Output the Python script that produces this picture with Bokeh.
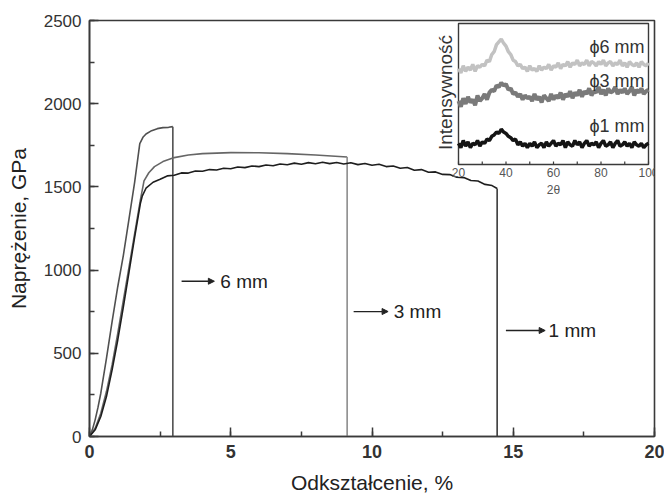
import numpy as np
from bokeh.plotting import figure
from bokeh.models import Range1d, SingleIntervalTicker, Arrow, NormalHead
from bokeh.embed import file_html
from bokeh.resources import INLINE
from bokeh.core.properties import value

# ---------------- main chart data (strain %, stress) ----------------
strain_6 = [0, 0.1, 0.2, 0.3, 0.4, 0.6, 0.8, 1.0, 1.2, 1.4, 1.6, 1.78, 1.9, 2.0, 2.2, 2.4, 2.6, 2.8, 2.95]
stress_6 = [0, 40, 100, 175, 260, 470, 690, 900, 1090, 1310, 1530, 1760, 1800, 1818, 1838, 1850, 1856, 1858, 1862]

strain_3 = [0, 0.2, 0.4, 0.6, 0.8, 1.0, 1.2, 1.4, 1.6, 1.8, 1.93, 2.1, 2.3, 2.6, 3.0, 3.5, 4.0, 5.0, 6.0, 7.0, 8.0, 9.12]
stress_3 = [0, 50, 140, 270, 430, 620, 820, 1020, 1220, 1420, 1536, 1585, 1622, 1652, 1676, 1692, 1700, 1706, 1705, 1700, 1692, 1680]

strain_1 = [0, 0.2, 0.4, 0.6, 0.8, 1.0, 1.2, 1.4, 1.6, 1.8, 1.87, 2.0,
            2.25, 2.5, 2.75, 3.0, 3.25, 3.5, 3.75, 4.0, 4.25, 4.5,
            4.75, 5.0, 5.25, 5.5, 5.75, 6.0, 6.25, 6.5, 6.75, 7.0,
            7.25, 7.5, 7.75, 8.0, 8.25, 8.5, 8.75, 9.0, 9.25, 9.5,
            9.75, 10.0, 10.25, 10.5, 10.75, 11.0, 11.25, 11.5, 11.75, 12.0,
            12.25, 12.5, 12.75, 13.0, 13.25, 13.5, 13.75, 14.0, 14.25, 14.43]
stress_1 = [0, 40, 120, 240, 400, 580, 780, 990, 1200, 1400, 1446, 1492,
            1528, 1546, 1566, 1570, 1584, 1583, 1595, 1594, 1604, 1602,
            1612, 1609, 1620, 1616, 1626, 1622, 1632, 1627, 1638, 1633,
            1643, 1636, 1646, 1639, 1648, 1640, 1647, 1638, 1645, 1634,
            1641, 1630, 1636, 1622, 1626, 1612, 1617, 1600, 1604, 1588,
            1590, 1575, 1574, 1558, 1556, 1538, 1535, 1515, 1508, 1490]

labels_main = ["6 mm", "3 mm", "1 mm"]
arrow_x0 = [3.26, 9.35, 14.74]
arrow_x1 = [4.42, 10.57, 16.13]
arrow_y = [933, 751, 637]
label_x = [4.63, 10.77, 16.25]

# ---------------- inset (XRD) data, 2theta = 20..100 step 1 ----------------
two_theta = list(range(20, 101))
xrd_6 = [68, 65, 70, 66, 69, 67, 71, 66, 70, 69,
         71, 70, 74, 73, 78, 80, 85, 87, 89, 86,
         84, 80, 78, 74, 73, 70, 71, 68, 69, 66,
         70, 67, 68, 66, 70, 67, 69, 68, 71, 67,
         70, 69, 72, 68, 71, 70, 73, 69, 72, 71,
         74, 70, 72, 71, 74, 70, 73, 72, 70, 73,
         71, 74, 70, 72, 73, 70, 72, 71, 74, 70,
         72, 69, 73, 71, 70, 72, 69, 73, 71, 70,
         72]
xrd_3 = [45, 41, 47, 43, 48, 44, 46, 42, 49, 45,
         47, 50, 46, 51, 53, 52, 56, 55, 58, 56,
         57, 53, 54, 50, 51, 48, 50, 46, 49, 47,
         48, 45, 50, 46, 48, 44, 49, 47, 45, 50,
         46, 49, 47, 51, 46, 50, 48, 52, 47, 51,
         49, 53, 48, 52, 50, 54, 49, 52, 51, 55,
         50, 53, 49, 54, 51, 52, 55, 50, 53, 51,
         54, 50, 52, 55, 49, 53, 51, 54, 50, 52,
         53]
xrd_1 = [15, 12, 17, 13, 16, 12, 15, 14, 17, 13,
         16, 15, 18, 17, 20, 21, 23, 22, 25, 23,
         22, 20, 19, 17, 18, 14, 16, 13, 15, 12,
         15, 13, 16, 12, 14, 15, 12, 16, 13, 15,
         17, 13, 15, 14, 17, 12, 16, 14, 13, 17,
         14, 16, 12, 15, 17, 13, 15, 14, 16, 12,
         15, 17, 13, 14, 16, 12, 15, 17, 13, 14,
         16, 13, 15, 12, 16, 14, 13, 15, 12, 14,
         15]
xrd_labels = ["\u03d56 mm", "\u03d53 mm", "\u03d51 mm"]
xrd_label_y = [83, 59, 27]
inset_ticks = [20, 40, 60, 80, 100]
inset_minor = [30, 50, 70, 90]

# ---------------- layout constants (pixels in the window) ----------------
W, H = 664, 497
FR_L, FR_R, FR_T, FR_B = 89, 654, 20, 436
IN_L, IN_R, IN_T, IN_B = 458, 648, 23, 164

FONT = "Liberation Sans"
DARK = "#333333"

p = figure(width=W, height=H, output_backend="svg", toolbar_location=None,
           x_range=Range1d(0, 20), y_range=Range1d(0, 2500),
           min_border_left=FR_L, min_border_right=W - FR_R,
           min_border_top=FR_T, min_border_bottom=H - FR_B)
p.grid.visible = False
p.outline_line_color = "#3a3a3a"
p.outline_line_width = 1.6
p.background_fill_color = "white"
p.border_fill_color = "white"

p.xaxis.ticker = SingleIntervalTicker(interval=5, num_minor_ticks=2)
p.yaxis.ticker = SingleIntervalTicker(interval=500, num_minor_ticks=2)
for ax in (p.xaxis, p.yaxis):
    ax.axis_line_color = "#3a3a3a"
    ax.axis_line_width = 1.6
    ax.major_tick_line_color = "#3a3a3a"
    ax.minor_tick_line_color = "#3a3a3a"
    ax.major_tick_line_width = 1.5
    ax.minor_tick_line_width = 1.5
    ax.major_tick_in = 9
    ax.major_tick_out = 0
    ax.minor_tick_in = 5
    ax.minor_tick_out = 0
    ax.major_label_text_font = FONT
    ax.major_label_text_color = DARK
    ax.axis_label_text_font = FONT
    ax.axis_label_text_font_style = "normal"
    ax.axis_label_text_color = "#222222"
    ax.axis_label_text_font_size = "21px"

p.xaxis.axis_label = "Odkształcenie, %"
p.yaxis.axis_label = "Naprężenie, GPa"
p.xaxis.major_label_text_font_size = "18px"
p.xaxis.major_label_text_font_style = "bold"
p.yaxis.major_label_text_font_size = "17px"
p.xaxis.major_label_standoff = 8
p.yaxis.major_label_standoff = 8
p.xaxis.axis_label_standoff = 10
p.yaxis.axis_label_standoff = 11

# main curves
p.line(strain_6, stress_6, line_color="#505050", line_width=1.6)
p.segment(x0=[strain_6[-1]], y0=[stress_6[-1]], x1=[strain_6[-1]], y1=[0],
          line_color="#505050", line_width=1.6)
p.line(strain_3, stress_3, line_color="#666666", line_width=1.6)
p.segment(x0=[strain_3[-1]], y0=[stress_3[-1]], x1=[strain_3[-1]], y1=[0],
          line_color="#8c8c8c", line_width=1.6)
p.line(strain_1, stress_1, line_color="#1e1e1e", line_width=1.6)
p.segment(x0=[strain_1[-1]], y0=[stress_1[-1]], x1=[strain_1[-1]], y1=[0],
          line_color="#3a3a3a", line_width=1.6)

# arrows + labels
for x0, x1, y in zip(arrow_x0, arrow_x1, arrow_y):
    p.add_layout(Arrow(x_start=x0, y_start=y, x_end=x1, y_end=y,
                       line_color="#222222", line_width=1.3,
                       end=NormalHead(size=6, fill_color="#222222", line_color="#222222", line_width=1)))
p.text(x=label_x, y=arrow_y, text=labels_main, text_font=value(FONT),
       text_font_size="19px", text_color="#222222", text_baseline="middle", text_align="left")

# ---------------- inset, drawn on extra ranges ----------------
sx = (inset_ticks[-1] - inset_ticks[0]) / (IN_R - IN_L)
ix_start = inset_ticks[0] - (IN_L - FR_L) * sx
ix_end = ix_start + (FR_R - FR_L) * sx
sy = 100.0 / (IN_B - IN_T)
iy_start = 0 - (FR_B - IN_B) * sy
iy_end = iy_start + (FR_B - FR_T) * sy
p.extra_x_ranges = {"ix": Range1d(ix_start, ix_end)}
p.extra_y_ranges = {"iy": Range1d(iy_start, iy_end)}
kw = dict(x_range_name="ix", y_range_name="iy")

p.quad(left=[inset_ticks[0]], right=[inset_ticks[-1]], bottom=[0], top=[100],
       fill_color="white", line_color="#3a3a3a", line_width=1.4, **kw)
p.line(two_theta, xrd_6, line_color="#c2c2c2", line_width=3.5, line_join="bevel", **kw)
p.line(two_theta, xrd_3, line_color="#7a7a7a", line_width=4, line_join="bevel", **kw)
p.line(two_theta, xrd_1, line_color="#141414", line_width=3.5, line_join="bevel", **kw)

tick_len = 3 * sy
p.segment(x0=inset_ticks + inset_minor, y0=[0] * 9, x1=inset_ticks + inset_minor,
          y1=[tick_len] * 9, line_color="#3a3a3a", line_width=1.2, **kw)
p.text(x=inset_ticks, y=[-(172 - IN_B) * sy] * 5, text=[str(t) for t in inset_ticks],
       text_font=value(FONT), text_font_size="12px", text_color="#555555",
       text_align="center", text_baseline="middle", **kw)
p.text(x=[60], y=[-(189 - IN_B) * sy], text=["2\u03b8"], text_font=value(FONT),
       text_font_size="12px", text_color="#555555", text_align="center",
       text_baseline="middle", **kw)
p.text(x=[inset_ticks[0] - (IN_L - 445) * sx], y=[(IN_B - 92) * sy], text=["Intensywność"],
       angle=np.pi / 2, text_font=value(FONT), text_font_size="19px", text_color="#333333",
       text_align="center", text_baseline="middle", **kw)
p.text(x=[inset_ticks[0] + (644 - IN_L) * sx] * 3, y=xrd_label_y, text=xrd_labels,
       text_font=value(FONT), text_font_size="18px", text_color="#333333",
       text_align="right", text_baseline="middle", **kw)

open("out.html", "w").write(file_html(p, INLINE))
